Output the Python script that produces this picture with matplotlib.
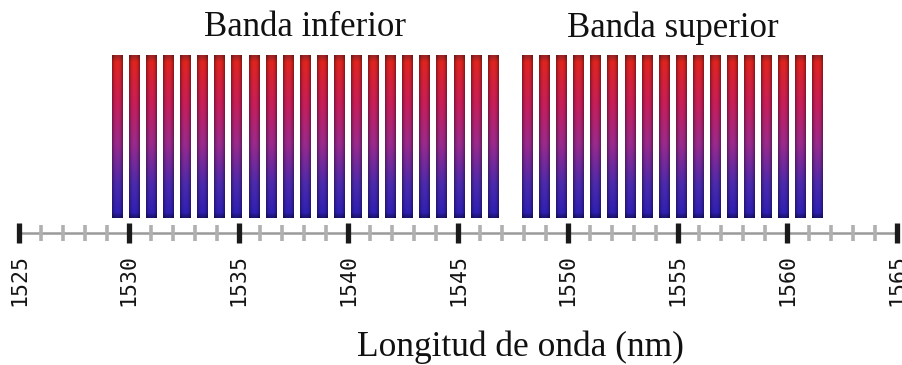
import numpy as np
import matplotlib.pyplot as plt
from matplotlib.colors import LinearSegmentedColormap

# channel centre wavelengths (nm)
lower_band = [1529.48, 1530.26, 1531.04, 1531.82, 1532.59, 1533.37, 1534.15,
              1534.93, 1535.71, 1536.49, 1537.27, 1538.04, 1538.82, 1539.60,
              1540.38, 1541.16, 1541.94, 1542.71, 1543.49, 1544.27, 1545.05,
              1545.83, 1546.61]
upper_band = [1548.16, 1548.94, 1549.72, 1550.50, 1551.28, 1552.06, 1552.84,
              1553.62, 1554.39, 1555.17, 1555.95, 1556.73, 1557.51, 1558.29,
              1559.06, 1559.84, 1560.62, 1561.40]
band_names = ['Banda inferior', 'Banda superior']
major_ticks = [1525, 1530, 1535, 1540, 1545, 1550, 1555, 1560, 1565]
minor_ticks = list(range(1525, 1566))

W, H = 902, 365
px_per_nm = 21.95
x0 = 1525 - 19 / px_per_nm
x1 = x0 + W / px_per_nm

fig = plt.figure(figsize=(W / 100, H / 100), dpi=100)
ax = fig.add_axes([0, 0, 1, 1])
ax.set_xlim(x0, x1)
ax.set_ylim(H, 0)
ax.axis('off')

# red -> magenta -> blue gradient for each channel
cmap = LinearSegmentedColormap.from_list('chan', [
    (0.00, '#9c2424'), (0.04, '#e0241f'), (0.30, '#c81e5a'),
    (0.55, '#9a2a8e'), (0.80, '#4a2aae'), (0.97, '#3020b4'), (1.00, '#1c1470')])
rows = cmap(np.linspace(0, 1, 200))[:, :3]
xs = np.linspace(-1, 1, 24)
shade = 1.0 - 0.38 * np.abs(xs) ** 2.5
bar_img = rows[:, None, :] * shade[None, :, None]

bar_w = 0.5
bar_top, bar_bot = 55, 218
for wl in lower_band + upper_band:
    ax.imshow(bar_img, extent=(wl - bar_w / 2, wl + bar_w / 2, bar_bot, bar_top),
              aspect='auto', interpolation='bilinear', zorder=2)

# wavelength ruler
axis_y = 233
ax.plot([1525, 1565], [axis_y, axis_y], color='#9a9a9a', lw=1.8, zorder=3,
        solid_capstyle='butt')
for t in minor_ticks:
    if t in major_ticks:
        continue
    ax.plot([t, t], [axis_y - 8, axis_y + 8], color='#b0b0b0', lw=2.6, zorder=4,
            solid_capstyle='butt')
for t in major_ticks:
    ax.plot([t, t], [axis_y - 10, axis_y + 10], color='#1a1a1a', lw=3.8, zorder=5,
            solid_capstyle='butt')
    ax.text(t, 254, str(t), rotation=90, ha='center', va='top',
            family='DejaVu Sans Mono', fontsize=15.5, color='#141414')

serif = 'Liberation Serif'
ax.text(np.mean([lower_band[0], lower_band[-1]]), 28, band_names[0],
        ha='center', va='center', family=serif, fontsize=25, color='#111111')
ax.text(np.mean([upper_band[0], upper_band[-1]]), 28, band_names[1],
        ha='center', va='center', family=serif, fontsize=25, color='#111111')
ax.text(1525 + (520 - 19) / px_per_nm, 347, 'Longitud de onda (nm)',
        ha='center', va='center', family=serif, fontsize=25.5, color='#111111')

fig.savefig('out.png', dpi=100, facecolor='white')
